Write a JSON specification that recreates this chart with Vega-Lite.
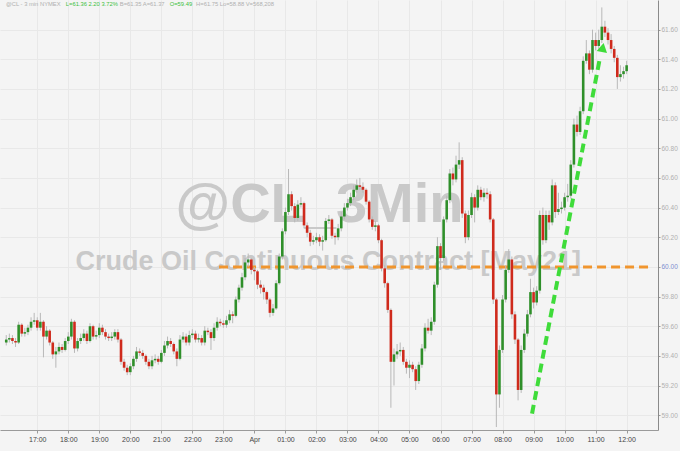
{
"$schema": "https://vega.github.io/schema/vega-lite/v6.json",
"width": 658, "height": 430,
"autosize": {"type": "none"},
"padding": {"left": 0, "top": 0, "right": 22, "bottom": 21},
"background": "#f4f4f4",
"config": {"view": {"stroke": null, "fill": "#f4f4f4"}, "font": "Liberation Sans",
"axis": {"labelOverlap": false, "labelBound": false, "labelFlush": false, "labelSeparation": -30},
"axisX": {"grid": true, "gridColor": "#e8e8e8", "domainColor": "#9a9a9a", "tickColor": "#9a9a9a", "tickSize": 3,
"labelFontSize": 7, "labelColor": "#444444", "labelPadding": 2, "title": null},
"axisY": {"grid": true, "gridColor": "#e8e8e8", "domainColor": "#8a8a8a", "tickColor": "#9a9a9a", "tickSize": 2,
"labelFontSize": 6.5, "labelPadding": 1, "title": null}},
"datasets": {
"candles": [
{"t":16.0,"o":59.49,"h":59.54,"l":59.47,"c":59.51},{"t":16.1,"o":59.51,"h":59.55,"l":59.49,"c":59.52},{"t":16.2,"o":59.52,"h":59.54,"l":59.48,"c":59.50},{"t":16.3,"o":59.50,"h":59.52,"l":59.46,"c":59.49},{"t":16.4,"o":59.49,"h":59.63,"l":59.48,"c":59.61},
{"t":16.5,"o":59.61,"h":59.62,"l":59.53,"c":59.55},{"t":16.6,"o":59.55,"h":59.59,"l":59.53,"c":59.56},{"t":16.7,"o":59.56,"h":59.61,"l":59.54,"c":59.59},{"t":16.8,"o":59.59,"h":59.66,"l":59.57,"c":59.63},{"t":16.9,"o":59.63,"h":59.69,"l":59.61,"c":59.64},
{"t":17.0,"o":59.64,"h":59.66,"l":59.57,"c":59.59},{"t":17.1,"o":59.59,"h":59.69,"l":59.57,"c":59.63},{"t":17.2,"o":59.63,"h":59.64,"l":59.39,"c":59.53},{"t":17.3,"o":59.53,"h":59.60,"l":59.51,"c":59.57},{"t":17.4,"o":59.57,"h":59.58,"l":59.47,"c":59.49},
{"t":17.5,"o":59.49,"h":59.50,"l":59.38,"c":59.41},{"t":17.6,"o":59.41,"h":59.46,"l":59.32,"c":59.43},{"t":17.7,"o":59.43,"h":59.49,"l":59.41,"c":59.46},{"t":17.8,"o":59.46,"h":59.48,"l":59.42,"c":59.44},{"t":17.9,"o":59.44,"h":59.52,"l":59.43,"c":59.50},
{"t":18.0,"o":59.50,"h":59.56,"l":59.48,"c":59.53},{"t":18.1,"o":59.53,"h":59.65,"l":59.51,"c":59.63},{"t":18.2,"o":59.63,"h":59.64,"l":59.42,"c":59.45},{"t":18.3,"o":59.45,"h":59.52,"l":59.43,"c":59.50},{"t":18.4,"o":59.50,"h":59.55,"l":59.48,"c":59.52},
{"t":18.5,"o":59.52,"h":59.58,"l":59.50,"c":59.55},{"t":18.6,"o":59.55,"h":59.57,"l":59.48,"c":59.50},{"t":18.7,"o":59.50,"h":59.62,"l":59.49,"c":59.60},{"t":18.8,"o":59.60,"h":59.61,"l":59.51,"c":59.53},{"t":18.9,"o":59.53,"h":59.57,"l":59.51,"c":59.54},
{"t":19.0,"o":59.54,"h":59.62,"l":59.52,"c":59.59},{"t":19.1,"o":59.59,"h":59.61,"l":59.54,"c":59.56},{"t":19.2,"o":59.56,"h":59.58,"l":59.51,"c":59.53},{"t":19.3,"o":59.53,"h":59.55,"l":59.50,"c":59.52},{"t":19.4,"o":59.52,"h":59.56,"l":59.50,"c":59.53},
{"t":19.5,"o":59.53,"h":59.58,"l":59.51,"c":59.56},{"t":19.6,"o":59.56,"h":59.58,"l":59.49,"c":59.51},{"t":19.7,"o":59.51,"h":59.52,"l":59.34,"c":59.36},{"t":19.8,"o":59.36,"h":59.38,"l":59.30,"c":59.32},{"t":19.9,"o":59.32,"h":59.34,"l":59.27,"c":59.29},
{"t":20.0,"o":59.29,"h":59.35,"l":59.27,"c":59.33},{"t":20.1,"o":59.33,"h":59.40,"l":59.31,"c":59.38},{"t":20.2,"o":59.38,"h":59.46,"l":59.36,"c":59.43},{"t":20.3,"o":59.43,"h":59.45,"l":59.40,"c":59.42},{"t":20.4,"o":59.42,"h":59.44,"l":59.38,"c":59.40},
{"t":20.5,"o":59.40,"h":59.41,"l":59.34,"c":59.36},{"t":20.6,"o":59.36,"h":59.38,"l":59.31,"c":59.33},{"t":20.7,"o":59.33,"h":59.40,"l":59.31,"c":59.37},{"t":20.8,"o":59.37,"h":59.41,"l":59.35,"c":59.38},{"t":20.9,"o":59.38,"h":59.40,"l":59.34,"c":59.36},
{"t":21.0,"o":59.36,"h":59.44,"l":59.35,"c":59.42},{"t":21.1,"o":59.42,"h":59.50,"l":59.40,"c":59.47},{"t":21.2,"o":59.47,"h":59.53,"l":59.45,"c":59.50},{"t":21.3,"o":59.50,"h":59.52,"l":59.46,"c":59.48},{"t":21.4,"o":59.48,"h":59.49,"l":59.41,"c":59.43},
{"t":21.5,"o":59.43,"h":59.45,"l":59.33,"c":59.38},{"t":21.6,"o":59.38,"h":59.54,"l":59.37,"c":59.51},{"t":21.7,"o":59.51,"h":59.56,"l":59.49,"c":59.53},{"t":21.8,"o":59.53,"h":59.55,"l":59.47,"c":59.49},{"t":21.9,"o":59.49,"h":59.57,"l":59.47,"c":59.54},
{"t":22.0,"o":59.54,"h":59.58,"l":59.52,"c":59.55},{"t":22.1,"o":59.55,"h":59.57,"l":59.49,"c":59.51},{"t":22.2,"o":59.51,"h":59.55,"l":59.49,"c":59.52},{"t":22.3,"o":59.52,"h":59.54,"l":59.47,"c":59.49},{"t":22.4,"o":59.49,"h":59.60,"l":59.47,"c":59.57},
{"t":22.5,"o":59.57,"h":59.59,"l":59.54,"c":59.56},{"t":22.6,"o":59.56,"h":59.58,"l":59.44,"c":59.52},{"t":22.7,"o":59.52,"h":59.62,"l":59.50,"c":59.59},{"t":22.8,"o":59.59,"h":59.66,"l":59.57,"c":59.63},{"t":22.9,"o":59.63,"h":59.65,"l":59.60,"c":59.62},
{"t":23.0,"o":59.62,"h":59.64,"l":59.59,"c":59.61},{"t":23.1,"o":59.61,"h":59.67,"l":59.59,"c":59.64},{"t":23.2,"o":59.64,"h":59.71,"l":59.62,"c":59.68},{"t":23.3,"o":59.68,"h":59.70,"l":59.62,"c":59.67},{"t":23.4,"o":59.67,"h":59.80,"l":59.66,"c":59.78},
{"t":23.5,"o":59.78,"h":59.88,"l":59.76,"c":59.86},{"t":23.6,"o":59.86,"h":59.96,"l":59.84,"c":59.93},{"t":23.7,"o":59.93,"h":60.06,"l":59.91,"c":60.03},{"t":23.8,"o":60.03,"h":60.09,"l":60.00,"c":60.05},{"t":23.9,"o":60.05,"h":60.06,"l":59.95,"c":59.98},
{"t":24.0,"o":59.98,"h":60.00,"l":59.91,"c":59.97},{"t":24.1,"o":59.97,"h":59.98,"l":59.85,"c":59.88},{"t":24.2,"o":59.88,"h":59.91,"l":59.82,"c":59.86},{"t":24.3,"o":59.86,"h":59.88,"l":59.78,"c":59.83},{"t":24.4,"o":59.83,"h":59.84,"l":59.75,"c":59.78},
{"t":24.5,"o":59.78,"h":59.79,"l":59.66,"c":59.69},{"t":24.6,"o":59.69,"h":59.75,"l":59.67,"c":59.72},{"t":24.7,"o":59.72,"h":59.91,"l":59.71,"c":59.89},{"t":24.8,"o":59.89,"h":60.09,"l":59.88,"c":60.07},{"t":24.9,"o":60.07,"h":60.26,"l":60.05,"c":60.24},
{"t":25.0,"o":60.24,"h":60.40,"l":60.22,"c":60.37},{"t":25.1,"o":60.37,"h":60.66,"l":60.35,"c":60.49},{"t":25.2,"o":60.49,"h":60.51,"l":60.38,"c":60.41},{"t":25.3,"o":60.41,"h":60.43,"l":60.30,"c":60.33},{"t":25.4,"o":60.33,"h":60.45,"l":60.31,"c":60.42},
{"t":25.5,"o":60.42,"h":60.47,"l":60.40,"c":60.43},{"t":25.6,"o":60.43,"h":60.44,"l":60.26,"c":60.28},{"t":25.7,"o":60.28,"h":60.30,"l":60.20,"c":60.23},{"t":25.8,"o":60.23,"h":60.25,"l":60.14,"c":60.17},{"t":25.9,"o":60.17,"h":60.21,"l":60.15,"c":60.18},
{"t":26.0,"o":60.18,"h":60.23,"l":60.16,"c":60.20},{"t":26.1,"o":60.20,"h":60.22,"l":60.14,"c":60.17},{"t":26.2,"o":60.17,"h":60.21,"l":60.11,"c":60.18},{"t":26.3,"o":60.18,"h":60.33,"l":60.17,"c":60.31},{"t":26.4,"o":60.31,"h":60.35,"l":60.29,"c":60.32},
{"t":26.5,"o":60.32,"h":60.33,"l":60.19,"c":60.21},{"t":26.6,"o":60.21,"h":60.23,"l":60.15,"c":60.20},{"t":26.7,"o":60.20,"h":60.29,"l":60.18,"c":60.26},{"t":26.8,"o":60.26,"h":60.37,"l":60.24,"c":60.34},{"t":26.9,"o":60.34,"h":60.43,"l":60.32,"c":60.40},
{"t":27.0,"o":60.40,"h":60.46,"l":60.38,"c":60.43},{"t":27.1,"o":60.43,"h":60.50,"l":60.41,"c":60.47},{"t":27.2,"o":60.47,"h":60.55,"l":60.45,"c":60.52},{"t":27.3,"o":60.52,"h":60.59,"l":60.50,"c":60.55},{"t":27.4,"o":60.55,"h":60.60,"l":60.52,"c":60.54},
{"t":27.5,"o":60.54,"h":60.57,"l":60.50,"c":60.52},{"t":27.6,"o":60.52,"h":60.53,"l":60.42,"c":60.44},{"t":27.7,"o":60.44,"h":60.45,"l":60.30,"c":60.32},{"t":27.8,"o":60.32,"h":60.34,"l":60.25,"c":60.27},{"t":27.9,"o":60.27,"h":60.31,"l":60.24,"c":60.28},
{"t":28.0,"o":60.28,"h":60.29,"l":60.16,"c":60.18},{"t":28.1,"o":60.18,"h":60.19,"l":59.97,"c":59.99},{"t":28.2,"o":59.99,"h":60.01,"l":59.86,"c":59.89},{"t":28.3,"o":59.89,"h":59.90,"l":59.69,"c":59.71},{"t":28.4,"o":59.71,"h":59.72,"l":59.05,"c":59.36},
{"t":28.5,"o":59.36,"h":59.45,"l":59.20,"c":59.41},{"t":28.6,"o":59.41,"h":59.48,"l":59.38,"c":59.43},{"t":28.7,"o":59.43,"h":59.49,"l":59.40,"c":59.44},{"t":28.8,"o":59.44,"h":59.46,"l":59.34,"c":59.36},{"t":28.9,"o":59.36,"h":59.38,"l":59.28,"c":59.32},
{"t":29.0,"o":59.32,"h":59.37,"l":59.25,"c":59.34},{"t":29.1,"o":59.34,"h":59.36,"l":59.29,"c":59.31},{"t":29.2,"o":59.31,"h":59.33,"l":59.17,"c":59.23},{"t":29.3,"o":59.23,"h":59.36,"l":59.21,"c":59.34},{"t":29.4,"o":59.34,"h":59.48,"l":59.32,"c":59.45},
{"t":29.5,"o":59.45,"h":59.62,"l":59.43,"c":59.59},{"t":29.6,"o":59.59,"h":59.65,"l":59.55,"c":59.57},{"t":29.7,"o":59.57,"h":59.66,"l":59.54,"c":59.63},{"t":29.8,"o":59.63,"h":59.90,"l":59.61,"c":59.88},{"t":29.9,"o":59.88,"h":60.20,"l":59.86,"c":60.14},
{"t":30.0,"o":60.14,"h":60.16,"l":59.98,"c":60.06},{"t":30.1,"o":60.06,"h":60.34,"l":60.04,"c":60.32},{"t":30.2,"o":60.32,"h":60.48,"l":60.30,"c":60.45},{"t":30.3,"o":60.45,"h":60.66,"l":60.43,"c":60.63},{"t":30.4,"o":60.63,"h":60.67,"l":60.55,"c":60.59},
{"t":30.5,"o":60.59,"h":60.75,"l":60.57,"c":60.69},{"t":30.6,"o":60.69,"h":60.84,"l":60.66,"c":60.72},{"t":30.7,"o":60.72,"h":60.74,"l":60.33,"c":60.36},{"t":30.8,"o":60.36,"h":60.38,"l":60.16,"c":60.20},{"t":30.9,"o":60.20,"h":60.38,"l":60.18,"c":60.35},
{"t":31.0,"o":60.35,"h":60.50,"l":60.33,"c":60.47},{"t":31.1,"o":60.47,"h":60.49,"l":60.30,"c":60.40},{"t":31.2,"o":60.40,"h":60.55,"l":60.38,"c":60.52},{"t":31.3,"o":60.52,"h":60.54,"l":60.45,"c":60.47},{"t":31.4,"o":60.47,"h":60.53,"l":60.44,"c":60.50},
{"t":31.5,"o":60.50,"h":60.53,"l":60.46,"c":60.49},{"t":31.6,"o":60.49,"h":60.51,"l":60.30,"c":60.32},{"t":31.7,"o":60.32,"h":60.33,"l":59.75,"c":59.78},{"t":31.8,"o":59.78,"h":59.79,"l":58.92,"c":59.14},{"t":31.9,"o":59.14,"h":59.47,"l":59.05,"c":59.44},
{"t":32.0,"o":59.44,"h":59.81,"l":59.42,"c":59.78},{"t":32.1,"o":59.78,"h":60.01,"l":59.76,"c":59.98},{"t":32.2,"o":59.98,"h":60.12,"l":59.96,"c":60.05},{"t":32.3,"o":60.05,"h":60.07,"l":59.65,"c":59.68},{"t":32.4,"o":59.68,"h":59.70,"l":59.48,"c":59.51},
{"t":32.5,"o":59.51,"h":59.52,"l":59.10,"c":59.17},{"t":32.6,"o":59.17,"h":59.47,"l":59.15,"c":59.44},{"t":32.7,"o":59.44,"h":59.58,"l":59.42,"c":59.55},{"t":32.8,"o":59.55,"h":59.71,"l":59.53,"c":59.68},{"t":32.9,"o":59.68,"h":59.92,"l":59.66,"c":59.83},
{"t":33.0,"o":59.83,"h":59.86,"l":59.72,"c":59.76},{"t":33.1,"o":59.76,"h":59.87,"l":59.74,"c":59.84},{"t":33.2,"o":59.84,"h":60.38,"l":59.82,"c":60.35},{"t":33.3,"o":60.35,"h":60.40,"l":60.15,"c":60.18},{"t":33.4,"o":60.18,"h":60.38,"l":60.16,"c":60.35},
{"t":33.5,"o":60.35,"h":60.38,"l":60.25,"c":60.30},{"t":33.6,"o":60.30,"h":60.59,"l":60.28,"c":60.55},{"t":33.7,"o":60.55,"h":60.57,"l":60.33,"c":60.37},{"t":33.8,"o":60.37,"h":60.50,"l":60.35,"c":60.39},{"t":33.9,"o":60.39,"h":60.44,"l":60.36,"c":60.40},
{"t":34.0,"o":60.40,"h":60.50,"l":60.38,"c":60.47},{"t":34.1,"o":60.47,"h":60.56,"l":60.44,"c":60.48},{"t":34.2,"o":60.48,"h":60.72,"l":60.46,"c":60.69},{"t":34.3,"o":60.69,"h":61.00,"l":60.67,"c":60.96},{"t":34.4,"o":60.96,"h":61.02,"l":60.88,"c":60.91},
{"t":34.5,"o":60.91,"h":61.08,"l":60.89,"c":61.05},{"t":34.6,"o":61.05,"h":61.42,"l":61.03,"c":61.39},{"t":34.7,"o":61.39,"h":61.53,"l":61.37,"c":61.44},{"t":34.8,"o":61.44,"h":61.46,"l":61.30,"c":61.33},{"t":34.9,"o":61.33,"h":61.60,"l":61.31,"c":61.53},
{"t":35.0,"o":61.53,"h":61.58,"l":61.46,"c":61.49},{"t":35.1,"o":61.49,"h":61.60,"l":61.47,"c":61.53},{"t":35.2,"o":61.53,"h":61.75,"l":61.51,"c":61.62},{"t":35.3,"o":61.62,"h":61.66,"l":61.55,"c":61.58},{"t":35.4,"o":61.58,"h":61.61,"l":61.50,"c":61.53},
{"t":35.5,"o":61.53,"h":61.57,"l":61.44,"c":61.47},{"t":35.6,"o":61.47,"h":61.49,"l":61.38,"c":61.41},{"t":35.7,"o":61.41,"h":61.43,"l":61.20,"c":61.28},{"t":35.8,"o":61.28,"h":61.36,"l":61.25,"c":61.30},{"t":35.9,"o":61.30,"h":61.35,"l":61.27,"c":61.32},
{"t":36.0,"o":61.32,"h":61.39,"l":61.30,"c":61.36}
],
"level": [{"t0": 22.86, "t1": 36.85, "p": 60.0}],
"arrow": [{"t": 32.95, "p": 59.01}, {"t": 35.13, "p": 61.40}],
"head": [{"t": 35.23, "p": 61.48}],
"wm": [
{"t": 26.1, "p": 60.42, "txt": "@CL_3Min", "fs": 56},
{"t": 26.38, "p": 60.03, "txt": "Crude Oil Continuous Contract [May21]", "fs": 27}
],
"hdr": [
{"t": 15.99, "p": 61.775, "txt": "@CL - 3 min NYMEX", "col": "#b0b0b0"},
{"t": 17.92, "p": 61.775, "txt": "L=61.36 2.20 3.72%", "col": "#3cbf3c"},
{"t": 19.66, "p": 61.775, "txt": "B=61.35 A=61.37", "col": "#b0b0b0"},
{"t": 21.27, "p": 61.775, "txt": "O=59.49", "col": "#3cbf3c"},
{"t": 22.12, "p": 61.775, "txt": "H=61.75 Lo=58.88 V=568,208", "col": "#b0b0b0"}
]
},
"layer": [
{
"data": {"name": "wm"},
"mark": {"type": "text", "align": "center", "baseline": "middle", "fontWeight": "bold", "color": "#c9c9c9"},
"encoding": {
"x": {"field": "t", "type": "quantitative", "scale": {"domain": [15.96, 36.85], "nice": false, "zero": false},
"axis": {"title": null, "labelOverlap": false, "labelSeparation": -30, "tickCount": 60,
"values": [17,18,19,20,21,22,23,24,25,26,27,28,29,30,31,32,33,34,35,36],
"labelExpr": "datum.value == 24 ? 'Apr' : ((datum.value % 24) < 10 ? '0' : '') + (datum.value % 24) + ':00'"}},
"y": {"field": "p", "type": "quantitative", "scale": {"domain": [58.9, 61.8], "nice": false, "zero": false},
"axis": {"title": null, "orient": "right", "labelOverlap": false, "labelSeparation": -30, "tickCount": 60,
"values": [59.0,59.2,59.4,59.6,59.8,60.0,60.2,60.4,60.6,60.8,61.0,61.2,61.4,61.6], "format": ".2f",
"labelColor": {"condition": {"test": "datum.value == 60", "value": "#7d8fd0"}, "value": "#b0b0b0"}}},
"text": {"field": "txt"},
"size": {"field": "fs", "type": "quantitative", "scale": null}
}
},
{
"data": {"name": "level"},
"mark": {"type": "rule", "color": "#f0952e", "strokeWidth": 3, "strokeDash": [9, 5]},
"encoding": {
"x": {"field": "t0", "type": "quantitative", "axis": {"labelOverlap": false}},
"x2": {"field": "t1"},
"y": {"field": "p", "type": "quantitative", "axis": {"labelOverlap": false}}
}
},
{
"data": {"name": "candles"},
"mark": {"type": "rule", "color": "#b8b8b8", "strokeWidth": 1},
"encoding": {
"x": {"field": "t", "type": "quantitative", "axis": {"labelOverlap": false}},
"y": {"field": "l", "type": "quantitative", "axis": {"labelOverlap": false}},
"y2": {"field": "h"}
}
},
{
"data": {"name": "candles"},
"mark": {"type": "bar", "size": 2.6},
"encoding": {
"x": {"field": "t", "type": "quantitative", "axis": {"labelOverlap": false}},
"y": {"field": "o", "type": "quantitative", "axis": {"labelOverlap": false}},
"y2": {"field": "c"},
"color": {"condition": {"test": "datum.c >= datum.o", "value": "#2f8f2a"}, "value": "#cf2a1c"}
}
},
{
"data": {"name": "arrow"},
"mark": {"type": "line", "color": "#3fdc3a", "strokeWidth": 4, "strokeDash": [9, 5]},
"encoding": {
"x": {"field": "t", "type": "quantitative", "axis": {"labelOverlap": false}},
"y": {"field": "p", "type": "quantitative", "axis": {"labelOverlap": false}}
}
},
{
"data": {"name": "head"},
"mark": {"type": "point", "shape": "triangle-up", "filled": true, "color": "#3fdc3a", "opacity": 1, "size": 110, "angle": 11},
"encoding": {
"x": {"field": "t", "type": "quantitative", "axis": {"labelOverlap": false}},
"y": {"field": "p", "type": "quantitative", "axis": {"labelOverlap": false}}
}
},
{
"data": {"name": "hdr"},
"mark": {"type": "text", "align": "left", "baseline": "middle", "fontSize": 5.8},
"encoding": {
"x": {"field": "t", "type": "quantitative", "axis": {"labelOverlap": false}},
"y": {"field": "p", "type": "quantitative", "axis": {"labelOverlap": false}},
"text": {"field": "txt"},
"color": {"field": "col", "type": "nominal", "scale": null}
}
}
]
}
